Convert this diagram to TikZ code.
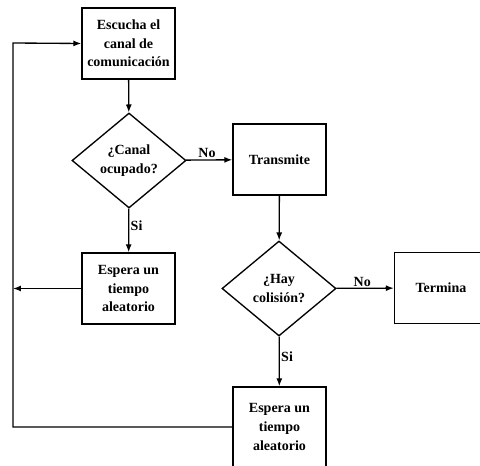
\documentclass[tikz,border=0pt]{standalone}
\usepackage{fontspec}
\setmainfont{Liberation Serif}[BoldFont={Liberation Serif Bold},ItalicFont={Liberation Serif Italic}]
\usetikzlibrary{shapes.geometric,arrows.meta}
\begin{document}
\begin{tikzpicture}[x=0.75pt,y=-0.75pt,
  every node/.style={font=\fontsize{10.5}{13.9}\selectfont\bfseries},
  procbox/.style={draw,line width=1pt,minimum width=69.75pt,minimum height=53.25pt,align=center,inner sep=1pt},
  decision/.style={draw,line width=1pt,diamond,minimum width=85.5pt,minimum height=71.25pt,aspect=1.2,align=center,inner sep=0pt},
  lbl/.style={inner sep=1pt},
  flow/.style={line width=1pt,-{Latex[length=6pt,width=4.5pt]}},
  plain/.style={line width=1pt}]
\useasboundingbox (0,0) rectangle (480,466);
\clip (0,0) rectangle (480,466);
\fill[white] (0,0) rectangle (480,466);
\node[procbox] (listen) at (128.5,43.5) {Escucha el\\canal de\\comunicación};
\node[decision] (busy) at (129,160.5) {¿Canal\\ocupado?};
\node[procbox] (tx) at (279.5,159.5) {Transmite};
\node[procbox] (wait1) at (128.5,288.5) {Espera un\\tiempo\\aleatorio};
\node[decision] (coll) at (279,288.5) {¿Hay\\colisión?};
\node[procbox] (done) at (441,288) {Termina};
\node[procbox,minimum height=60pt] (wait2) at (279.5,427) {Espera un\\tiempo\\aleatorio};
\coordinate (lefttop) at (13,43);
\coordinate (leftmid) at (13,288.5);
\coordinate (leftbot) at (13,427);
\draw[flow] (listen) -- (busy);
\draw[flow] (busy) -- node[lbl,above,pos=0.45] {No} (tx);
\draw[flow] (busy) -- node[lbl,right,pos=0.4] {Si} (wait1);
\draw[flow] (tx) -- (coll);
\draw[flow] (coll) -- node[lbl,above,pos=0.45] {No} (done);
\draw[flow] (coll) -- node[lbl,right,pos=0.4] {Si} (wait2);
\draw[flow] (wait1.west) -- (leftmid);
\draw[flow] (wait2.west) -- (leftbot) -- (lefttop) -- (listen.west);
\end{tikzpicture}
\end{document}
